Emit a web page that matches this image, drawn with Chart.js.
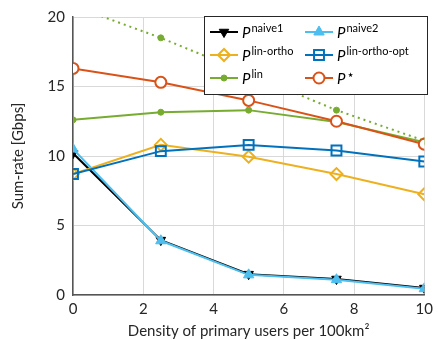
<!DOCTYPE html>
<html>
<head>
<meta charset="utf-8">
<script src="https://cdn.jsdelivr.net/npm/chart.js@4.4.0/dist/chart.umd.min.js"></script>
<style>
  html, body { margin: 0; padding: 0; background: #fff; }
</style>
</head>
<body>
<canvas id="myChart" width="438" height="340"></canvas>
<script>
// x: density of primary users per 100 km^2, y: sum-rate in Gbps
const density = [0, 2.5, 5, 7.5, 10];
const xTicks = [0, 2, 4, 6, 8, 10];
const yTicks = [0, 5, 10, 15, 20];

const naive1 = [10.2, 3.95, 1.5, 1.15, 0.5];
const naive2 = [10.5, 3.9, 1.45, 1.1, 0.45];
const linOrtho = [8.7, 10.8, 9.95, 8.7, 7.25];
const linOrthoOpt = [8.7, 10.35, 10.8, 10.4, 9.6];
const lin = [12.6, 13.15, 13.3, 12.45, 11.0];
const linBound = [20.8, 18.5, 15.9, 13.3, 11.1];
const optimal = [16.3, 15.3, 14.0, 12.5, 10.85];

// legend text (superscripts), two columns
const legendOrder = ["naive1", "naive2", "lin-ortho", "lin-ortho-opt", "lin", "\u22C6"];

const FONT = "Lato, 'DejaVu Sans', sans-serif";

function pts(values) {
    return density.map((x, i) => ({ x: x, y: values[i] }));
}

const datasets = [
    {
        label: "\u22C6", data: pts(optimal),
        borderColor: "#D95319", backgroundColor: "#fff",
        pointStyle: "circle", pointRadius: 5.5, pointBorderWidth: 2
    },
    {
        label: "lin", data: pts(lin),
        borderColor: "#77AC30", backgroundColor: "#77AC30",
        pointStyle: "circle", pointRadius: 3, pointBorderWidth: 1
    },
    {
        label: "lin-ortho-opt", data: pts(linOrthoOpt),
        borderColor: "#0072BD", backgroundColor: "rgba(255,255,255,0)",
        pointStyle: "rect", pointRadius: 7, pointBorderWidth: 2
    },
    {
        label: "lin-ortho", data: pts(linOrtho),
        borderColor: "#EDB120", backgroundColor: "rgba(255,255,255,0)",
        pointStyle: "rectRot", pointRadius: 6, pointBorderWidth: 2
    },
    {
        label: "naive2", data: pts(naive2),
        borderColor: "#4DBEEE", backgroundColor: "#4DBEEE",
        pointStyle: "triangle", pointRadius: 6, pointBorderWidth: 1
    },
    {
        label: "naive1", data: pts(naive1),
        borderColor: "#000", backgroundColor: "#000",
        pointStyle: "triangle", pointRotation: 180, pointRadius: 5.5, pointBorderWidth: 1
    },
    {
        label: "bound", data: pts(linBound),
        borderColor: "#77AC30", backgroundColor: "#77AC30",
        borderDash: [2, 4],
        pointStyle: "circle", pointRadius: 3, pointBorderWidth: 1
    }
];
datasets.forEach(d => { d.borderWidth = 2; d.tension = 0; d.fill = false; });

function drawMarker(c, ds, x, y) {
    if (Chart.helpers && Chart.helpers.drawPoint) {
        c.fillStyle = ds.backgroundColor;
        c.strokeStyle = ds.borderColor;
        c.lineWidth = ds.pointBorderWidth;
        c.setLineDash([]);
        Chart.helpers.drawPoint(c, {
            pointStyle: ds.pointStyle, rotation: ds.pointRotation || 0,
            radius: ds.pointRadius, borderWidth: ds.pointBorderWidth
        }, x, y);
    }
}

const supLegend = {
    id: "supLegend",
    afterDraw(chart) {
        const c = chart.ctx;
        const bx = 204, by = 16, bw = 223, bh = 78;
        c.save();
        c.fillStyle = "#fff";
        c.fillRect(bx, by, bw, bh);
        c.strokeStyle = "#262626";
        c.lineWidth = 1;
        c.strokeRect(bx + 0.5, by + 0.5, bw, bh);
        legendOrder.forEach((label, i) => {
            const ds = chart.data.datasets.find(d => d.label === label);
            const col = i % 2, row = Math.floor(i / 2);
            const lx = bx + 6 + col * 95;
            const ly = by + 16 + row * 23;
            c.strokeStyle = ds.borderColor;
            c.lineWidth = 2;
            c.setLineDash([]);
            c.beginPath();
            c.moveTo(lx, ly);
            c.lineTo(lx + 28, ly);
            c.stroke();
            drawMarker(c, ds, lx + 14, ly);
            c.fillStyle = "#000";
            c.textBaseline = "alphabetic";
            c.textAlign = "left";
            c.font = "italic 15px " + FONT;
            c.fillText("P", lx + 32, ly + 6);
            const pw = c.measureText("P").width;
            c.font = (label === "\u22C6" ? "13px " : "11px ") + FONT;
            c.fillText(label, lx + 33 + pw, ly + (label === "\u22C6" ? 1 : 0));
        });
        c.restore();
    }
};

const ctx = document.getElementById("myChart");
const chart = new Chart(ctx, {
    type: "line",
    data: { datasets: datasets },
    options: {
        responsive: false,
        animation: false,
        devicePixelRatio: 1,
        layout: { padding: { top: 15, right: 10, left: 0, bottom: 0 } },
        plugins: { legend: { display: false }, tooltip: { enabled: false } },
        scales: {
            x: {
                type: "linear", min: 0, max: 10,
                afterBuildTicks: s => { s.ticks = xTicks.map(v => ({ value: v })); },
                afterFit: s => { s.height = 45; },
                grid: { color: "#d9d9d9", drawTicks: false },
                border: { color: "#555", width: 1.5 },
                ticks: { color: "#262626", padding: 5, font: { family: FONT, size: 15 }, maxRotation: 0 },
                title: {
                    display: true, text: "Density of primary users per 100km\u00B2",
                    color: "#262626", font: { family: FONT, size: 15 }, padding: { top: 0, bottom: 0 }
                }
            },
            y: {
                min: 0, max: 20,
                afterBuildTicks: s => { s.ticks = yTicks.map(v => ({ value: v })); },
                afterFit: s => { s.width = 73; },
                grid: { color: "#d9d9d9", drawTicks: false },
                border: { color: "#555", width: 1.5 },
                ticks: { color: "#262626", padding: 8, font: { family: FONT, size: 15 } },
                title: {
                    display: true, text: "Sum-rate [Gbps]",
                    color: "#262626", font: { family: FONT, size: 15 }, padding: { top: 9, bottom: 0 }
                }
            }
        }
    },
    plugins: [supLegend]
});
</script>
</body>
</html>
